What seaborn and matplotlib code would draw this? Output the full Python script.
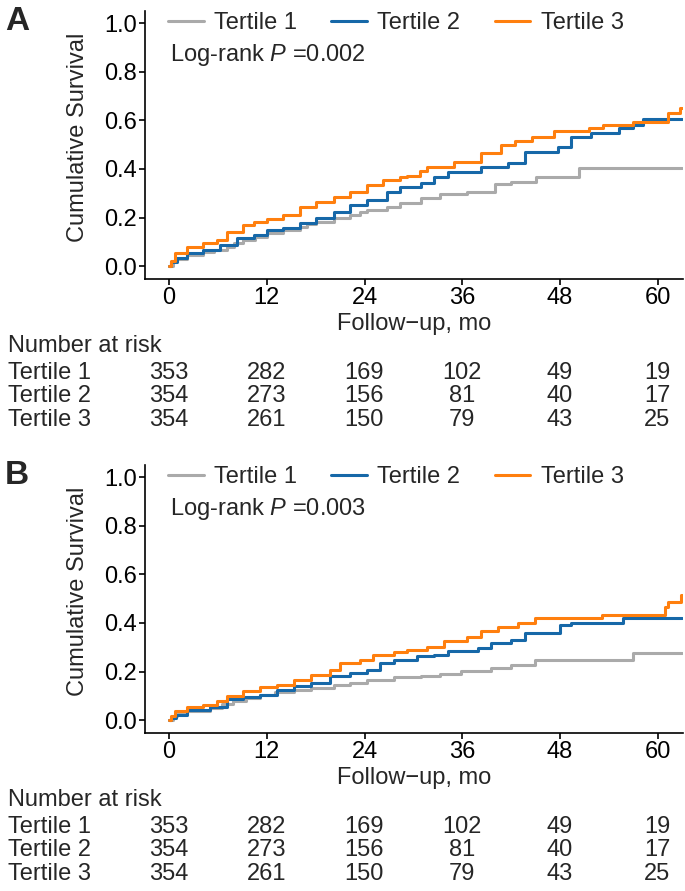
import numpy as np
import pandas as pd
import matplotlib
matplotlib.use("Agg")
import matplotlib.pyplot as plt
import seaborn as sns

# ---- data ----
groups = ["Tertile 1", "Tertile 2", "Tertile 3"]
colors = ["#AAAAAA", "#1668A8", "#FF7F0E"]
risk_times = [0, 12, 24, 36, 48, 60]

# Panel A
a_t1_t = [0, 0.5, 1, 2.2, 4.2, 5.5, 7.1, 8, 9.1, 10.5, 12, 14, 16.1, 17, 18.1, 20.2, 22.2, 23.5, 24.3, 26.7, 28.4, 30.9, 33.3, 36.6, 40.0, 42, 45, 50.3, 63]
a_t1_v = [0, 0.02, 0.03, 0.045, 0.059, 0.068, 0.08, 0.095, 0.107, 0.12, 0.135, 0.149, 0.163, 0.172, 0.183, 0.197, 0.21, 0.222, 0.231, 0.245, 0.261, 0.279, 0.297, 0.307, 0.338, 0.348, 0.368, 0.403, 0.403]
a_t2_t = [0, 0.3, 0.94, 2.2, 4.2, 6.3, 8.3, 10.4, 12, 14, 16.1, 18.1, 20.2, 22.2, 24.3, 26.7, 28.4, 30.9, 32.5, 34.2, 38.3, 41.6, 43.7, 47.8, 49.3, 51.8, 55.3, 57, 58.2, 63]
a_t2_v = [0, 0.015, 0.032, 0.052, 0.066, 0.087, 0.114, 0.128, 0.149, 0.156, 0.176, 0.197, 0.224, 0.252, 0.272, 0.307, 0.327, 0.341, 0.365, 0.389, 0.41, 0.424, 0.469, 0.49, 0.533, 0.547, 0.568, 0.582, 0.605, 0.605]
a_t3_t = [0, 0.2, 0.74, 2.2, 4.2, 5.9, 7.1, 9.1, 10.4, 12, 14, 16.1, 18.1, 20.2, 22.2, 24.3, 26.3, 28.4, 29.2, 30.8, 31.7, 35, 38.3, 40.8, 42.5, 44.6, 47.3, 51.6, 53.3, 57, 61.2, 62.7, 63]
a_t3_v = [0, 0.02, 0.052, 0.08, 0.094, 0.107, 0.142, 0.169, 0.183, 0.194, 0.21, 0.245, 0.265, 0.286, 0.307, 0.334, 0.355, 0.368, 0.371, 0.393, 0.41, 0.43, 0.466, 0.50, 0.515, 0.533, 0.558, 0.568, 0.579, 0.595, 0.63, 0.65, 0.65]
a_risk = [[353, 282, 169, 102, 49, 19],
          [354, 273, 156, 81, 40, 17],
          [354, 261, 150, 79, 43, 25]]
a_p = "0.002"

# Panel B
b_t1_t = [0, 0.5, 1, 2.2, 5, 6.5, 7.9, 9.5, 11.2, 13, 15.3, 17.4, 20.2, 22.2, 24.3, 27.6, 30.9, 33.3, 35.8, 39.5, 42, 44.9, 57, 63]
b_t1_v = [0, 0.015, 0.025, 0.037, 0.05, 0.065, 0.078, 0.092, 0.105, 0.115, 0.126, 0.133, 0.146, 0.153, 0.167, 0.178, 0.18, 0.191, 0.201, 0.215, 0.228, 0.249, 0.276, 0.276]
b_t2_t = [0, 0.3, 0.9, 2.2, 5, 7.1, 9.1, 11.2, 13.2, 15.3, 17.4, 19.8, 22.2, 24.3, 25.9, 27.6, 30.5, 32.5, 34.2, 37.9, 39.5, 42, 43.7, 48, 49.3, 55.7, 63]
b_t2_v = [0, 0.01, 0.023, 0.041, 0.055, 0.085, 0.096, 0.105, 0.126, 0.139, 0.153, 0.18, 0.194, 0.208, 0.235, 0.249, 0.262, 0.27, 0.283, 0.297, 0.317, 0.331, 0.358, 0.392, 0.399, 0.419, 0.419]
b_t3_t = [0, 0.2, 0.74, 2.2, 4.2, 5.9, 7.1, 9.1, 11.2, 13.2, 15.3, 17.4, 19.8, 21, 23.5, 25.1, 27.6, 29.2, 31.7, 33.8, 36.6, 38.3, 40.4, 42.9, 44.9, 53.2, 60.9, 61.3, 62.8, 63]
b_t3_v = [0, 0.015, 0.037, 0.055, 0.064, 0.078, 0.101, 0.119, 0.137, 0.146, 0.167, 0.187, 0.205, 0.235, 0.249, 0.269, 0.279, 0.29, 0.303, 0.324, 0.344, 0.365, 0.385, 0.399, 0.419, 0.433, 0.467, 0.488, 0.516, 0.516]
b_risk = a_risk
b_p = "0.003"

sns.set_style("ticks")
plt.rcParams['font.family'] = ['Liberation Sans', 'DejaVu Sans']
plt.rcParams['mathtext.fontset'] = 'custom'
plt.rcParams['mathtext.it'] = 'Liberation Sans:italic'
plt.rcParams['mathtext.rm'] = 'Liberation Sans'

FS = 17
W, H = 685, 891
fig = plt.figure(figsize=(W / 100, H / 100), dpi=100)


def make_df(curves):
    rows = []
    for g, (tt, vv) in zip(groups, curves):
        for t, v in zip(tt, vv):
            rows.append((g, t, v))
    return pd.DataFrame(rows, columns=["group", "time", "surv"])


def panel(top_px, letter, curves, risk, pval):
    bottom_px = top_px + 268
    ax = fig.add_axes([145 / W, 1 - bottom_px / H, 538 / W, 268 / H])
    df = make_df(curves)
    sns.lineplot(data=df, x="time", y="surv", hue="group", palette=colors,
                 estimator=None, sort=False, drawstyle="steps-post",
                 linewidth=2.2, legend=False, ax=ax)
    ax.set_xlim(-2.95, 63.1)
    ax.set_ylim(-0.053, 1.05)
    ax.set_xticks(risk_times)
    ax.set_yticks([0, 0.2, 0.4, 0.6, 0.8, 1.0])
    ax.set_yticklabels(["0.0", "0.2", "0.4", "0.6", "0.8", "1.0"])
    ax.tick_params(labelsize=FS, length=4, width=1.2, colors="black", pad=1.5)
    sns.despine(ax=ax)
    for s in ["left", "bottom"]:
        ax.spines[s].set_linewidth(1.2)
        ax.spines[s].set_color("black")
    ax.set_ylabel("Cumulative Survival", fontsize=FS)
    ax.yaxis.set_label_coords(-0.105, 0.53)
    ax.set_xlabel("Follow\u2212up, mo", fontsize=FS)
    ax.xaxis.set_label_coords(0.5, -0.128)

    handles = ax.get_lines()[:3]
    ax.legend(handles, groups, loc="center left", bbox_to_anchor=(0.043, 0.955),
              ncol=3, frameon=False, fontsize=FS, handlelength=1.5,
              handletextpad=0.45, columnspacing=1.45, borderpad=0, borderaxespad=0)
    ax.text(0.046, 0.836, "Log-rank $P$ =" + pval, transform=ax.transAxes,
            fontsize=FS, va="center", ha="left")

    fig.text(5 / W, 1 - (top_px + 11) / H, letter, fontsize=24, fontweight="bold",
             va="center", ha="left")

    # number at risk table
    fig.text(8 / W, 1 - (top_px + 335) / H, "Number at risk", fontsize=FS,
             va="center", ha="left")
    for i, g in enumerate(groups):
        y = 1 - (top_px + 362 + 23.5 * i) / H
        fig.text(8 / W, y, g, fontsize=FS, va="center", ha="left")
        for t, n in zip(risk_times, risk[i]):
            xf = (169 + t * 8.14) / W
            fig.text(xf, y, str(n), fontsize=FS, va="center", ha="center")
    return ax


panel(11, "A", [(a_t1_t, a_t1_v), (a_t2_t, a_t2_v), (a_t3_t, a_t3_v)], a_risk, a_p)
panel(465, "B", [(b_t1_t, b_t1_v), (b_t2_t, b_t2_v), (b_t3_t, b_t3_v)], b_risk, b_p)

fig.savefig("out.png", dpi=100)
